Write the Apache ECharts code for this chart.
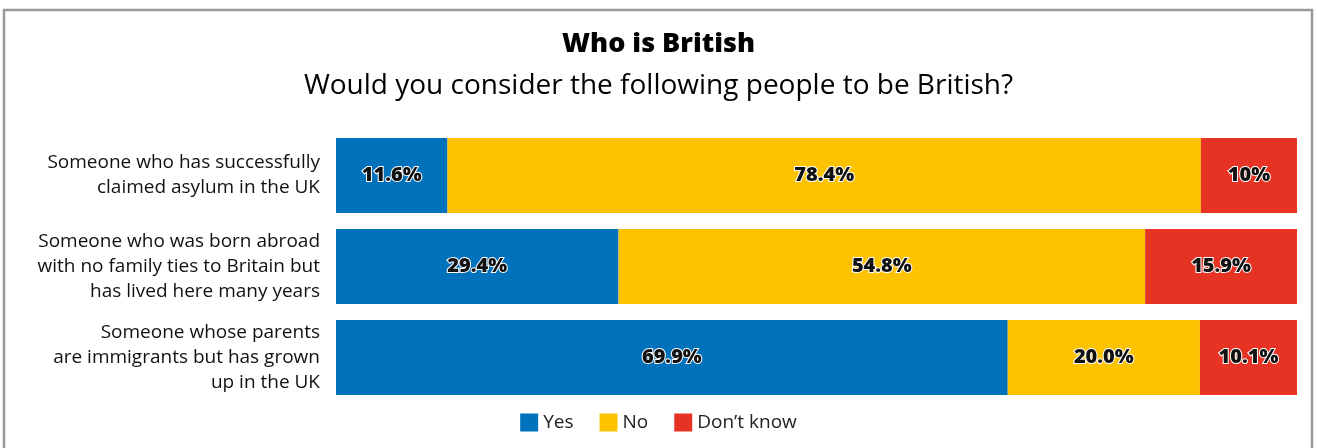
<!DOCTYPE html>
<html>
<head>
<meta charset="utf-8">
<script src="https://cdn.jsdelivr.net/npm/echarts@6/dist/echarts.min.js"></script>
<style>
  html, body { margin: 0; padding: 0; background: #fff; }
  #main { width: 1317px; height: 448px; }
</style>
</head>
<body>
<div id="main"></div>
<script>
// categories, top to bottom
var categories = [
  'Someone who has successfully\nclaimed asylum in the UK',
  'Someone who was born abroad\nwith no family ties to Britain but\nhas lived here many years',
  'Someone whose parents\nare immigrants but has grown\nup in the UK'
];
var yesValues = [11.6, 29.4, 69.9];
var noValues = [78.4, 54.8, 20.0];
var dkValues = [10, 15.9, 10.1];
var yesLabels = ['11.6%', '29.4%', '69.9%'];
var noLabels = ['78.4%', '54.8%', '20.0%'];
var dkLabels = ['10%', '15.9%', '10.1%'];

var chart = echarts.init(document.getElementById('main'));
var FONT = 'Open Sans';

function labelStyle(texts) {
  return {
    show: true,
    position: 'inside',
    formatter: function (p) { return texts[p.dataIndex]; },
    color: '#111',
    fontFamily: FONT,
    fontWeight: 800,
    fontSize: 20,
    textBorderColor: '#fff',
    textBorderWidth: 2
  };
}

var option = {
  animation: false,
  textStyle: { fontFamily: FONT },
  title: [
    {
      text: 'Who is British',
      left: 'center',
      top: 26,
      textStyle: { fontFamily: FONT, fontWeight: 800, fontSize: 27, color: '#000' }
    },
    {
      text: 'Would you consider the following people to be British?',
      left: 'center',
      top: 67,
      textStyle: { fontFamily: FONT, fontWeight: 'normal', fontSize: 28, color: '#000' }
    }
  ],
  graphic: [
    {
      type: 'rect',
      shape: { x: 4, y: 10, width: 1308, height: 460 },
      style: { fill: 'none', stroke: '#999', lineWidth: 2.5 },
      silent: true
    }
  ],
  legend: {
    bottom: 11,
    left: 'center',
    itemWidth: 18,
    itemHeight: 18,
    itemGap: 26,
    icon: 'rect',
    textStyle: { fontFamily: FONT, fontSize: 19, color: '#222' },
    data: ['Yes', 'No', 'Don\u2019t know']
  },
  grid: { left: 336, right: 20, top: 130, bottom: 45 },
  xAxis: {
    type: 'value',
    min: 0,
    max: 100,
    show: false
  },
  yAxis: {
    type: 'category',
    inverse: true,
    data: categories,
    axisLine: { show: false },
    axisTick: { show: false },
    axisLabel: {
      margin: 16,
      fontFamily: FONT,
      fontSize: 19,
      lineHeight: 25,
      color: '#111',
      align: 'right'
    }
  },
  series: [
    {
      name: 'Yes',
      type: 'bar',
      stack: 'all',
      barWidth: 75,
      itemStyle: { color: '#0072BC' },
      label: labelStyle(yesLabels),
      data: yesValues
    },
    {
      name: 'No',
      type: 'bar',
      stack: 'all',
      barWidth: 75,
      itemStyle: { color: '#FDC300' },
      label: labelStyle(noLabels),
      data: noValues
    },
    {
      name: 'Don\u2019t know',
      type: 'bar',
      stack: 'all',
      barWidth: 75,
      itemStyle: { color: '#E63323' },
      label: labelStyle(dkLabels),
      data: dkValues
    }
  ]
};
chart.setOption(option);
</script>
</body>
</html>
